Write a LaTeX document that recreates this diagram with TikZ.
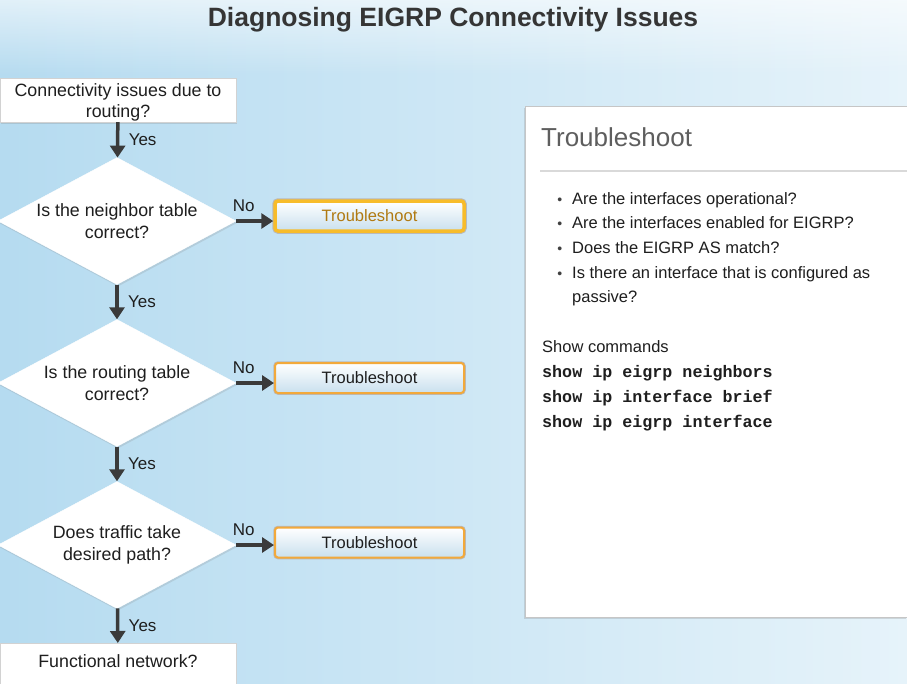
\documentclass[tikz,border=0pt]{standalone}
\usepackage{fontspec}
\setmainfont{Liberation Sans}
\setmonofont{Liberation Mono}
\usetikzlibrary{shapes.geometric,arrows.meta,shadows,fadings}

\definecolor{bgleft}{HTML}{B5DBF0}
\definecolor{bgright}{HTML}{E6F3FA}
\definecolor{textdark}{HTML}{1E1E1E}
\definecolor{arrowgray}{HTML}{3A3A3A}
\definecolor{btnorange}{HTML}{F2A93B}
\definecolor{btnyellow}{HTML}{F7BC2A}
\definecolor{btnblue}{HTML}{C9E0EE}
\definecolor{btntext}{HTML}{B07A12}
\definecolor{headgray}{HTML}{5E5E5E}

\newcommand{\chk}{\llap{\textcolor{textdark!85}{\fontsize{14}{14}\selectfont\textbullet}\hspace{10pt}}}

\begin{document}
\begin{tikzpicture}[x=1pt,y=-1pt,
    flowtext/.style={font=\fontsize{17.8}{21.5}\selectfont, text=textdark, align=center},
    box/.style={flowtext, rectangle, fill=white, draw=gray!35, minimum width=236pt, inner sep=2pt,
        drop shadow={opacity=0.25, shadow xshift=1pt, shadow yshift=-1.5pt}},
    decision/.style={flowtext, diamond, fill=white, draw=white, inner sep=0pt, aspect=2,
        minimum width=238pt, minimum height=127pt,
        drop shadow={opacity=0.2, shadow xshift=1pt, shadow yshift=-2pt}},
    fixbtn/.style={font=\fontsize{16.5}{19}\selectfont, text=textdark, rounded corners=3pt,
        minimum width=189pt, minimum height=30pt, inner sep=0pt,
        top color=white, bottom color=btnblue, draw=btnorange, line width=2pt,
        preaction={draw=gray!55, line width=3.5pt}},
    fixactive/.style={fixbtn, text=btntext, draw=btnyellow, line width=3.5pt,
        preaction={draw=gray!55, line width=5.5pt}},
    flow/.style={draw=arrowgray, line width=3.5pt, -{Triangle[length=12pt,width=15pt]}},
    answer/.style={font=\fontsize{17}{19}\selectfont, text=textdark},
    panel/.style={rectangle, fill=white, draw=gray!45, minimum width=382pt, minimum height=511pt,
        drop shadow={opacity=0.25, shadow xshift=-1.5pt, shadow yshift=-1.5pt}}]
    \useasboundingbox (0,0) rectangle (907,683);

    % Background
    \fill[left color=bgleft, right color=bgright] (0,0) rectangle (907,683);
    \fill[white, fill opacity=0.6, path fading=south] (0,0) rectangle (907,75);

    % Title
    \node[font=\fontsize{26.5}{30}\selectfont\bfseries, text=textdark!90] (title) at (453,20) {Diagnosing EIGRP Connectivity Issues};

    % Draw flowchart nodes
    \node[box, minimum height=44pt, inner ysep=0pt, text height=39.5pt] (start) at (118,100) {Connectivity issues due to\\routing?};
    \node[decision] (q1) at (117,221) {Is the neighbor table\\correct?};
    \node[decision] (q2) at (117,383) {Is the routing table\\correct?};
    \node[decision] (q3) at (117,545) {Does traffic take\\desired path?};
    \node[box, anchor=north, text height=24pt, text depth=26pt, inner sep=0pt] (done) at (118,643) {Functional network?};

    \node[fixactive] (t1) at (369.5,216) {Troubleshoot};
    \node[fixbtn] (t2) at (369.5,378) {Troubleshoot};
    \node[fixbtn] (t3) at (369.5,542.5) {Troubleshoot};

    % Draw directed edges
    \draw[flow] (start) -- node[answer, right=6pt] {Yes} (q1);
    \draw[flow] (q1) -- node[answer, right=6pt] {Yes} (q2);
    \draw[flow] (q2) -- node[answer, right=6pt] {Yes} (q3);
    \draw[flow] (q3) -- node[answer, right=6pt] {Yes} (done);
    \draw[flow] (q1) -- node[answer, pos=0.2, above=4pt] {No} (q1 -| t1.west);
    \draw[flow] (q2) -- node[answer, pos=0.2, above=4pt] {No} (q2 -| t2.west);
    \draw[flow] (q3) -- node[answer, pos=0.2, above=4pt] {No} (q3 -| t3.west);

    % Troubleshoot panel
    \node[panel] (panel) at (716,361.5) {};
    \node[anchor=base west, inner sep=0pt, font=\fontsize{26}{30}\selectfont, text=headgray] (heading) at (541,146) {Troubleshoot};
    \draw[gray!30, line width=1.2pt] (540,171) -- (panel.east |- 0,171);
    % base anchor sits on the last line
    \node[anchor=base west, inner sep=0pt, align=left, font=\fontsize{16.5}{24.7}\selectfont, text=textdark] (checks) at (572,302.8)
        {\chk Are the interfaces operational?\\
         \chk Are the interfaces enabled for EIGRP?\\
         \chk Does the EIGRP AS match?\\
         \chk Is there an interface that is configured as\\
         passive?};
    \node[anchor=base west, inner sep=0pt, font=\fontsize{16.5}{20}\selectfont, text=textdark] (showhdr) at (542,352) {Show commands};
    \node[anchor=base west, inner sep=0pt, align=left, font=\fontsize{16.7}{25}\selectfont\ttfamily\bfseries, text=textdark] (cmds) at (542,427)
        {show ip eigrp neighbors\\
         show ip interface brief\\
         show ip eigrp interface};
\end{tikzpicture}
\end{document}
